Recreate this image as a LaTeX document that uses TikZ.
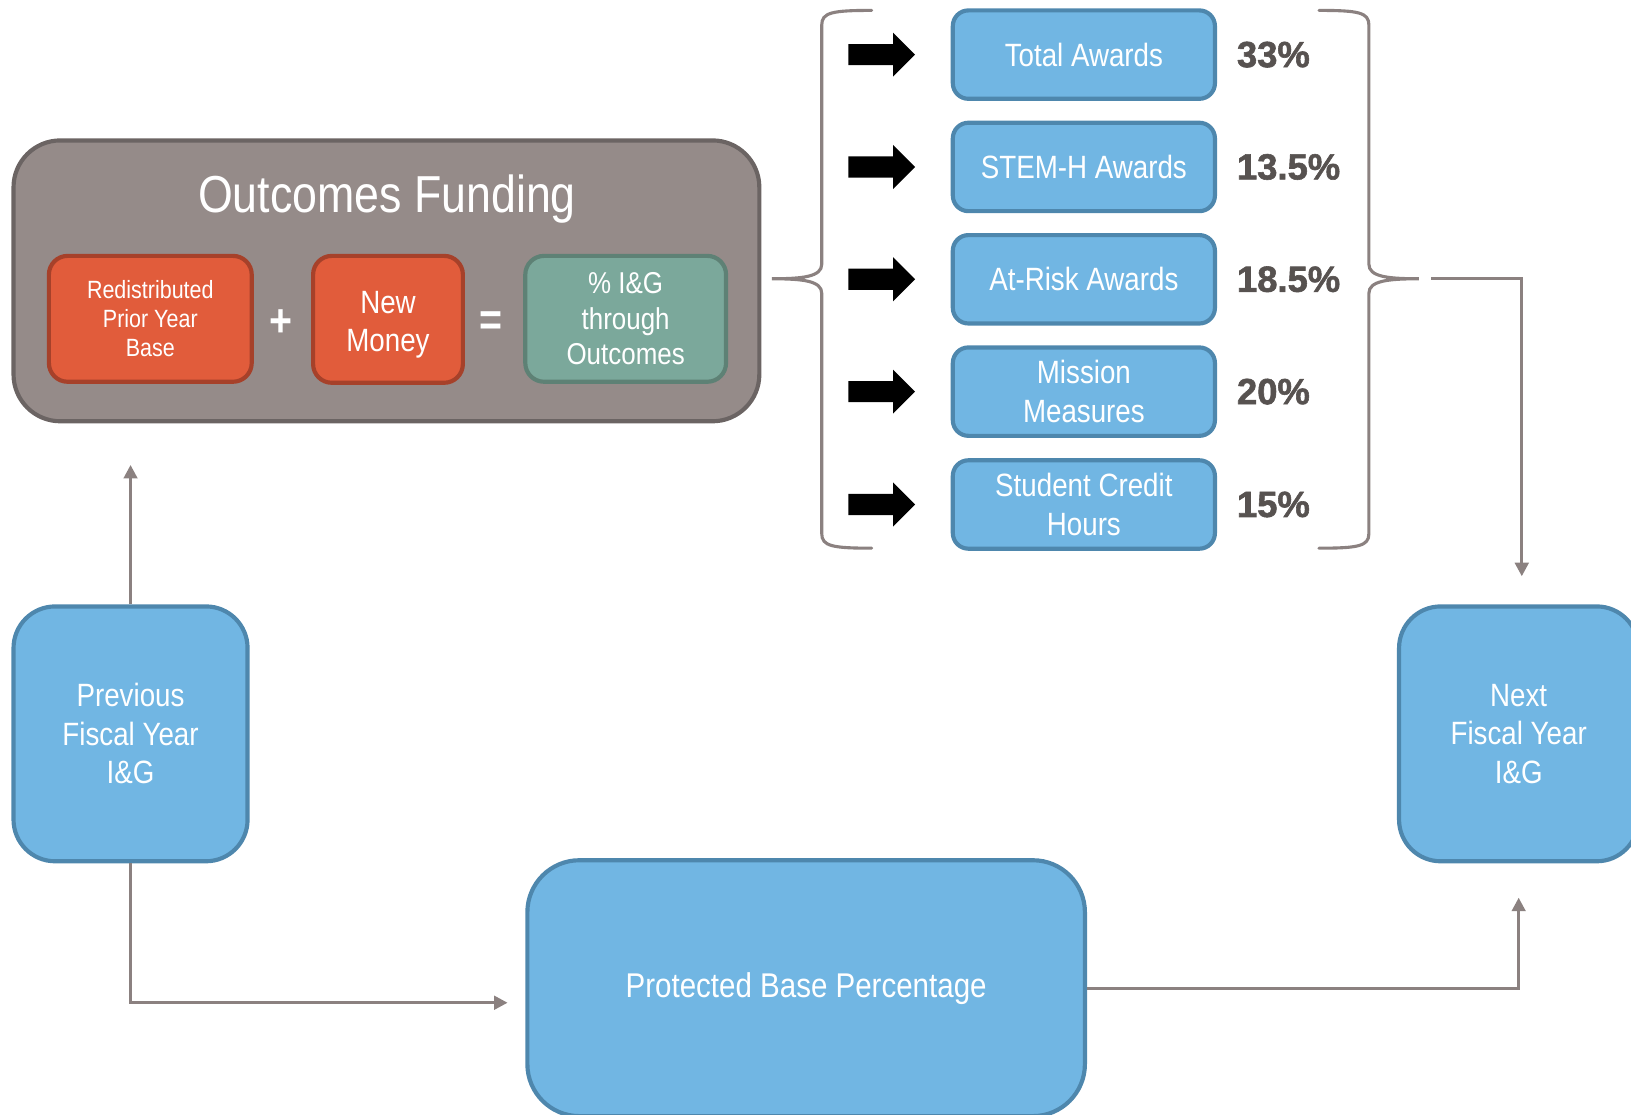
\documentclass[tikz,border=0pt]{standalone}
\usepackage{fontspec}
\setmainfont{Liberation Sans}[FakeStretch=0.86]
\newfontfamily\pctfont{Liberation Sans}[BoldFeatures={FakeBold=1.6}]
\usetikzlibrary{positioning,shapes.arrows,arrows.meta}
\definecolor{boxblue}{HTML}{71B6E3}
\definecolor{blueline}{HTML}{4E87AD}
\definecolor{ofgray}{HTML}{958B89}
\definecolor{ofline}{HTML}{6B6463}
\definecolor{redfill}{HTML}{E15C3B}
\definecolor{redline}{HTML}{A6412A}
\definecolor{greenfill}{HTML}{7BA89B}
\definecolor{greenline}{HTML}{5E8175}
\definecolor{linegray}{HTML}{8B8180}
\definecolor{pctgray}{HTML}{575250}

\begin{document}
\begin{tikzpicture}[x=1pt, y=-1pt,
  box/.style={draw, line width=4pt, rounded corners=16pt, inner sep=0pt, align=center, text=white},
  bluebox/.style={box, draw=blueline, fill=boxblue, font=\fontsize{31}{37}\selectfont},
  award/.style={bluebox, minimum width=252pt, minimum height=85pt, rounded corners=15pt},
  pct/.style={text=pctgray, inner sep=0pt, font=\pctfont\bfseries\fontsize{35}{40}\selectfont},
  blockarrow/.style={single arrow, fill=black, inner sep=0pt, minimum height=64pt,
    single arrow head extend=11pt},
  flow/.style={draw=linegray, line width=3pt, -{Triangle[length=13pt,width=13pt]}},
  brace/.style={draw=linegray, line width=3pt, line cap=round}]
\useasboundingbox (0,0) rectangle (1568,1071);

% outcomes funding block
\node[box, draw=ofline, fill=ofgray, minimum width=717pt, minimum height=270pt, rounded corners=45pt] (outcomes) at (371.5,270) {};
\node[text=white, font=\fontsize{50}{56}\selectfont] (title) at (372,191) {Outcomes Funding};
\node[box, draw=redline, fill=redfill, minimum width=195pt, minimum height=121pt, rounded corners=18pt,
  font=\fontsize{24}{28}\selectfont] (base) at (144.5,306.5) {Redistributed\\Prior Year\\Base};
\node[text=white, font=\bfseries\fontsize{44}{44}\selectfont] (plus) at (270,311) {+};
\node[box, draw=redline, fill=redfill, minimum width=144pt, minimum height=122pt, rounded corners=18pt] (money) at (373,307) {};
\node[text=white, align=center, inner sep=0pt, font=\fontsize{31}{37}\selectfont] (moneytxt) at ([yshift=-5pt]money.center) {New\\Money};
\node[text=white, font=\bfseries\fontsize{44}{44}\selectfont] (eq) at (472,311) {=};
\node[box, draw=greenline, fill=greenfill, minimum width=193pt, minimum height=121pt, rounded corners=18pt,
  font=\fontsize{29}{34}\selectfont] (ig) at (601.5,306.5) {\% I\&G\\through\\Outcomes};

% the five measures
\foreach \n/\yy/\txt/\p in {1/52.5/Total Awards/33, 2/160.5/STEM-H Awards/13.5, 3/268.5/At-Risk Awards/18.5,
    4/376.5/Mission\\Measures/20, 5/485/Student Credit\\Hours/15}{
  \node[award] (a\n) at (1042,\yy) {\txt};
  \node[blockarrow, left=34pt of a\n] (arr\n) {\rule{0pt}{20pt}};
  \node[pct, right=19pt of a\n] (p\n) {\p\%};
}

% braces
\draw[brace] (838,10) .. controls (800,10) and (790,12) .. (790,24) -- (790,254)
  .. controls (790,266) and (772,268) .. (742,268)
  .. controls (772,268) and (790,270) .. (790,282) -- (790,513)
  .. controls (790,525) and (800,527) .. (838,527);
\draw[brace] (1268,10) .. controls (1306,10) and (1316,12) .. (1316,24) -- (1316,254)
  .. controls (1316,266) and (1334,268) .. (1364,268)
  .. controls (1334,268) and (1316,270) .. (1316,282) -- (1316,513)
  .. controls (1316,525) and (1306,527) .. (1268,527);
\coordinate (tip) at (1376,268);

% fiscal year boxes
\node[bluebox, minimum width=225pt, minimum height=245pt, rounded corners=40pt] (prev) at (125.5,705.5) {Previous\\Fiscal Year\\I\&G};
\node[bluebox, minimum width=230pt, minimum height=245pt, rounded corners=40pt] (next) at (1460,705.5) {Next\\Fiscal Year\\I\&G};
\node[bluebox, minimum width=536pt, minimum height=246pt, rounded corners=50pt,
  font=\fontsize{33}{38}\selectfont] (protected) at (775,950) {Protected Base Percentage};

% connectors
\draw[flow, shorten >=40pt] (prev.north) -- (prev.north |- outcomes.south);
\draw[flow, shorten >=17pt] (prev.south) |- ([yshift=-14pt]protected.west);
\draw[flow, shorten >=33pt] (protected.east) -| (next.south);
\draw[flow, shorten >=27pt] (tip) -| ([xshift=3pt]next.north);
\end{tikzpicture}
\end{document}
